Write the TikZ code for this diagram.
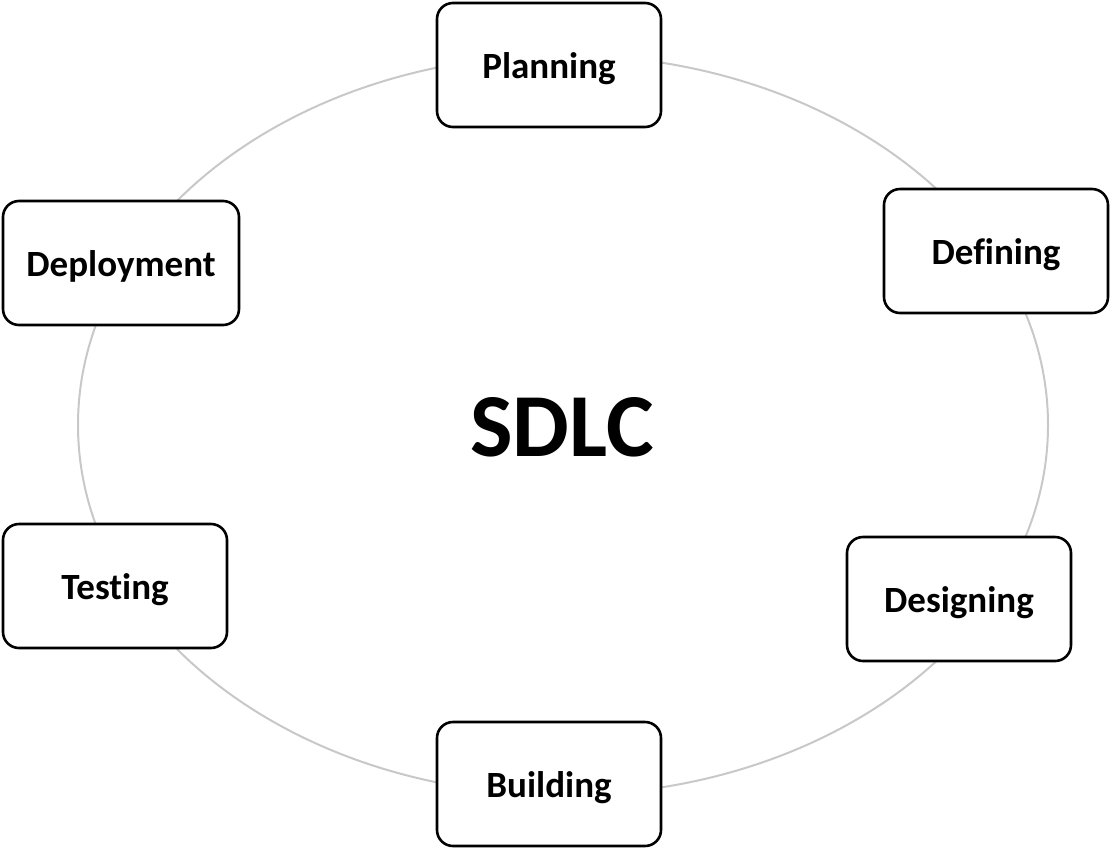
\documentclass[tikz,border=0pt]{standalone}
\usepackage{fontspec}
\setmainfont[Ligatures=NoCommon]{Carlito}
\usetikzlibrary{positioning}
\definecolor{cyclegray}{RGB}{200,200,200}

\tikzset{
  phase/.style={draw=black, line width=2.6pt, rounded corners=16pt, fill=white,
                minimum width=224pt, minimum height=124pt, inner sep=0pt,
                text height=34pt, text depth=8pt,
                font=\fontsize{37}{42}\selectfont\bfseries},
  cycle/.style={draw=cyclegray, line width=2pt}
}

\begin{document}
\begin{tikzpicture}[x=1pt, y=-1pt]
\useasboundingbox (0,0) rectangle (1110,849);

% the cycle
\draw[cycle] (563,425) ellipse [x radius=485pt, y radius=370pt];

\node[font=\fontsize{90}{100}\selectfont\bfseries] (sdlc) at (562,427) {SDLC};

% phases
\node[phase] (plan)   at (549,65)  {Planning};
\node[phase] (define) at (996,251) {Defining};
\node[phase] (design) at (959,599) {Designing};
\node[phase] (build)  at (549,784) {Building};
\node[phase] (test)   at (115,586) {Testing};
\node[phase, minimum width=236pt] (deploy) at (121,263) {Deployment};

\end{tikzpicture}
\end{document}
